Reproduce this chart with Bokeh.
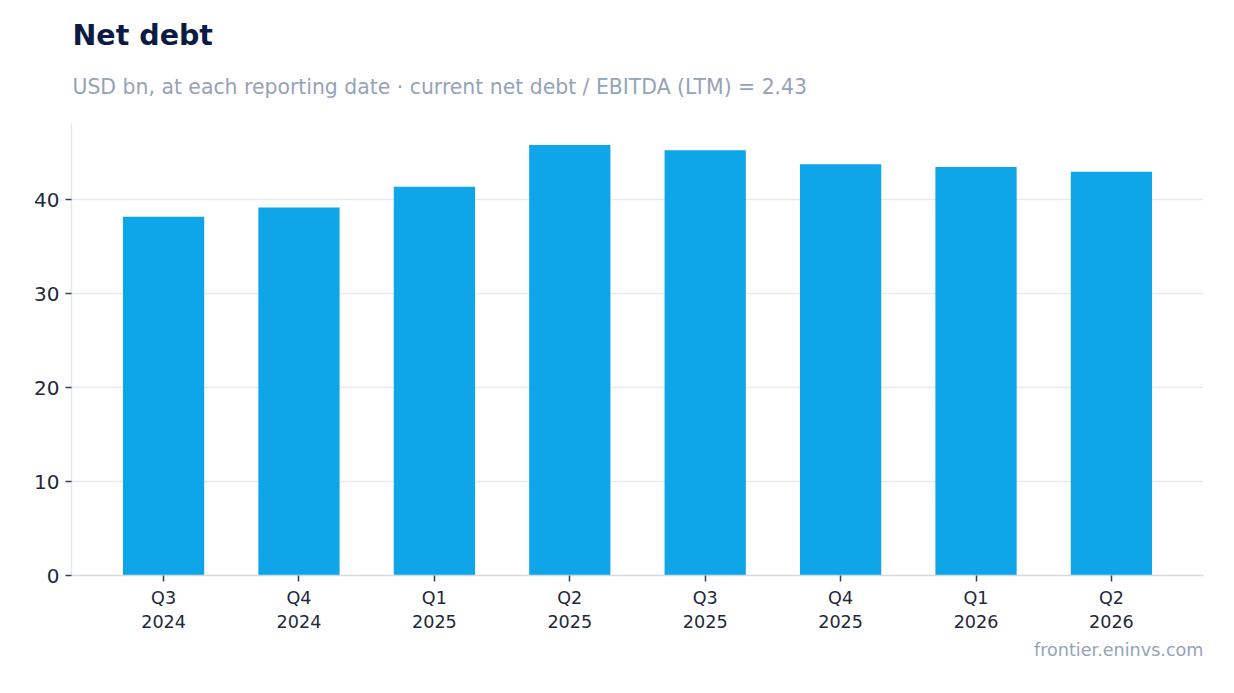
from bokeh.plotting import figure
from bokeh.models import FactorRange, Range1d, Title, ColumnDataSource, FixedTicker
from bokeh.embed import file_html
from bokeh.resources import INLINE

quarters = ["Q3\n2024", "Q4\n2024", "Q1\n2025", "Q2\n2025", "Q3\n2025", "Q4\n2025", "Q1\n2026", "Q2\n2026"]
net_debt = [38.2, 39.2, 41.4, 45.85, 45.3, 43.8, 43.5, 43.0]
y_ticks = [0, 10, 20, 30, 40]

title_text = "Net debt"
subtitle_text = "USD bn, at each reporting date \u00b7 current net debt / EBITDA (LTM) = 2.43"
footer_text = "frontier.eninvs.com"

FONT = "DejaVu Sans"

src = ColumnDataSource(dict(q=quarters, v=net_debt))

p = figure(
    x_range=FactorRange(*quarters, range_padding=0.18, range_padding_units="absolute"),
    y_range=Range1d(0, max(net_debt) * 1.05),
    frame_width=1132, frame_height=452,
    output_backend="svg", toolbar_location=None,
    min_border_left=71, min_border_right=23, min_border_top=123, min_border_bottom=10,
    title=None,
)
p.vbar(x="q", top="v", width=0.6, source=src, color="#0ea5e9", line_color=None)

sub = Title(text=subtitle_text, text_font=FONT, text_font_size="20.4px", text_font_style="normal",
            text_color="#94a3b8", offset=1, standoff=46, vertical_align="top")
p.add_layout(sub, "above")
tit = Title(text=title_text, text_font=FONT, text_font_size="28.5px", text_font_style="bold",
            text_color="#0b1b45", offset=1, standoff=0)
p.add_layout(tit, "above")
foot = Title(text=footer_text, text_font=FONT, text_font_size="17.6px", text_font_style="normal",
             text_color="#94a3b8", align="right", standoff=7)
p.add_layout(foot, "below")

p.xgrid.grid_line_color = None
p.ygrid.grid_line_color = "#e5e9f0"
p.ygrid.grid_line_width = 1.5
p.ygrid.ticker = FixedTicker(ticks=y_ticks)

p.yaxis.ticker = FixedTicker(ticks=y_ticks)
p.yaxis.axis_line_color = "#e2e8f0"
p.yaxis.axis_line_width = 1.5
p.yaxis.major_tick_line_color = "#334155"
p.yaxis.major_tick_line_width = 1.5
p.yaxis.major_tick_out = 6
p.yaxis.major_tick_in = 0
p.yaxis.minor_tick_line_color = None
p.yaxis.major_label_text_font = FONT
p.yaxis.major_label_text_font_size = "20px"
p.yaxis.major_label_text_color = "#1e293b"
p.yaxis.major_label_standoff = 6

p.xaxis.axis_line_color = "#d4dae4"
p.xaxis.axis_line_width = 1.5
p.xaxis.major_tick_line_color = "#334155"
p.xaxis.major_tick_line_width = 1.5
p.xaxis.major_tick_out = 6
p.xaxis.major_tick_in = 0
p.xaxis.major_label_text_font = FONT
p.xaxis.major_label_text_font_size = "17.6px"
p.xaxis.major_label_text_color = "#1e293b"
p.xaxis.major_label_standoff = 6

p.outline_line_color = None
p.background_fill_color = "white"
p.border_fill_color = "white"

open("out.html", "w").write(file_html(p, INLINE))
